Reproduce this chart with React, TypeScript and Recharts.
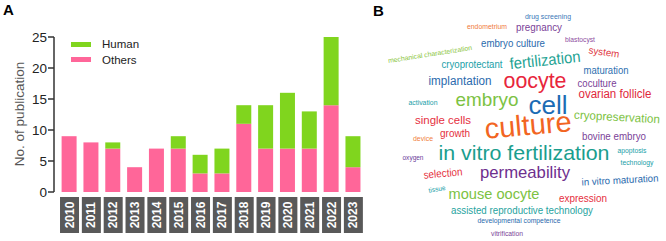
import React from "react";
import { BarChart, Bar, XAxis, YAxis, Legend } from "recharts";

const years = ["2010", "2011", "2012", "2013", "2014", "2015", "2016", "2017", "2018", "2019", "2020", "2021", "2022", "2023"];
const others = [9, 8, 7, 4, 7, 7, 3, 3, 11, 7, 7, 7, 14, 4];
const human = [0, 0, 1, 0, 0, 2, 3, 4, 3, 7, 9, 6, 11, 5];
const yTicks = [0, 5, 10, 15, 20, 25];

const cloudWords = [
  "drug screening", "endometrium", "pregnancy", "blastocyst", "mechanical characterization",
  "embryo culture", "system", "cryoprotectant", "fertilization", "maturation", "implantation",
  "oocyte", "coculture", "ovarian follicle", "activation", "embryo", "cell", "cryopreservation",
  "single cells", "culture", "growth", "device", "bovine embryo", "in vitro fertilization",
  "apoptosis", "oxygen", "technology", "selection", "permeability", "in vitro maturation",
  "tissue", "mouse oocyte", "expression", "assisted reproductive technology",
  "developmental competence", "vitrification",
];

// [cx, cy, fontSize, width, color, rotate] in page pixels
const cloudLayout: [number, number, number, number, string, number][] = [
  [548, 16, 7, 46, "#3a78b8", 0],
  [487, 26, 7, 40, "#f07a3a", 0],
  [539, 27, 11, 46, "#7b3f98", 0],
  [580, 39, 7, 30, "#8e4ea0", 0],
  [430, 54, 7, 85, "#8cc63f", -9],
  [513, 43, 10, 64, "#2a6aad", 0],
  [604, 52, 10, 31, "#e03a45", 8],
  [472, 64, 10.5, 61, "#20a0a8", 0],
  [545, 60, 16, 71, "#1fa394", -6],
  [606, 70, 10, 45, "#2e70b0", 0],
  [460, 81, 12, 63, "#2a6aad", 0],
  [535, 80, 22, 63, "#e8263c", 0],
  [597, 83, 10, 39, "#7b3f98", 0],
  [615, 94, 12, 73, "#e0283c", 0],
  [423, 102, 7, 29, "#20a0a8", 0],
  [487, 99, 19, 63, "#7cc242", 0],
  [548, 105, 26, 39, "#1c6cb4", 0],
  [617, 117, 12, 86, "#7cc242", 3],
  [443, 120, 11, 56, "#e53040", 0],
  [528, 125, 29, 87, "#f26522", -5],
  [455, 133, 10, 30, "#e53040", 0],
  [423, 138, 7, 20, "#f08040", 0],
  [614, 136, 10, 64, "#7b3f98", 0],
  [524, 152, 21, 171, "#1a9e8e", 0],
  [632, 150, 7, 29, "#20a0a8", 0],
  [413, 157, 7, 21, "#6a3d9a", 0],
  [637, 162, 7, 33, "#20a0a8", 0],
  [443, 173, 11, 39, "#e53040", -5],
  [525, 172, 17, 90, "#6e2f8e", 0],
  [620, 180, 10, 77, "#2a6aad", -3],
  [437, 189, 7, 17, "#20a0a8", -10],
  [494, 193, 15, 91, "#7cc242", 0],
  [583, 198, 11, 48, "#e53040", 0],
  [522, 210, 11, 142, "#1fa3a0", 0],
  [519, 220, 7, 83, "#2a6aad", 0],
  [507, 233, 7, 32, "#7b3f98", 0],
];

const PINK = "#ff6699";
const GREEN = "#80d51e";
const FONT = "'Liberation Sans', Arial, sans-serif";

const data = years.map((year, i) => ({ year, others: others[i], human: human[i] }));

const YearTick = ({ x, y, payload }: any) => (
  <g>
    <rect x={x - 9.5} y={y} width={19} height={36} fill="#595959" />
    <text
      x={x}
      y={y + 18}
      transform={`rotate(-90 ${x} ${y + 18})`}
      textAnchor="middle"
      dominantBaseline="central"
      fill="#fff"
      fontWeight="bold"
      fontSize={12}
    >
      {payload.value}
    </text>
  </g>
);

// Human sits on top of the stack, so it is listed first
const renderLegend = (props: any) => {
  const items = [...(props.payload || [])].sort((a: any) => (a.value === "Human" ? -1 : 1));
  return (
    <div>
      {items.map((item: any) => (
        <div key={item.value} style={{ display: "flex", alignItems: "center", height: 15.6 }}>
          <div style={{ width: 20, height: 5, background: item.color, marginRight: 11 }} />
          <span style={{ fontSize: 11.5, color: "#222" }}>{item.value}</span>
        </div>
      ))}
    </div>
  );
};

const YLabel = () => (
  <text
    x={19}
    y={114}
    transform="rotate(-90 19 114)"
    textAnchor="middle"
    dominantBaseline="central"
    fill="#555"
    fontSize={13.5}
  >
    No. of publication
  </text>
);

export default function App() {
  return (
    <div style={{ position: "absolute", left: 0, top: 0, width: 666, height: 241, fontFamily: FONT, background: "#fff" }}>
      <div style={{ position: "absolute", left: 3, top: 1, fontSize: 15, fontWeight: "bold" }}>A</div>
      <div style={{ position: "absolute", left: 373, top: 2, fontSize: 15, fontWeight: "bold" }}>B</div>
      <BarChart
        width={370}
        height={241}
        data={data}
        margin={{ top: 37, right: 5.7, bottom: 0, left: 0 }}
        style={{ fontFamily: FONT }}
      >
        <XAxis
          dataKey="year"
          height={49}
          axisLine={false}
          tickLine={false}
          tickSize={0}
          tickMargin={5}
          interval={0}
          padding={{ left: 4.6, right: 0 }}
          tick={<YearTick />}
        />
        <YAxis
          width={54}
          domain={[0, 25]}
          ticks={yTicks}
          tickSize={6}
          tickMargin={1}
          axisLine={{ stroke: "#333", strokeWidth: 1.5 }}
          tickLine={{ stroke: "#333", strokeWidth: 1.5 }}
          tick={{ fill: "#222", fontSize: 13.5 }}
          label={<YLabel />}
        />
        <Legend
          layout="horizontal"
          verticalAlign="middle"
          align="center"
          content={renderLegend}
          wrapperStyle={{ left: 71, top: 36.4, width: 90, height: 32 }}
        />
        <Bar dataKey="others" name="Others" stackId="a" fill={PINK} barSize={15} isAnimationActive={false} />
        <Bar dataKey="human" name="Human" stackId="a" fill={GREEN} barSize={15} isAnimationActive={false} />
      </BarChart>
      <svg style={{ position: "absolute", left: 370, top: 0 }} width={296} height={241}>
        <g transform="translate(-370 0)">
          {cloudWords.map((word, i) => {
            const [cx, cy, fs, w, color, rot] = cloudLayout[i];
            return (
              <text
                key={word}
                x={cx}
                y={cy}
                fontSize={fs}
                fill={color}
                textAnchor="middle"
                dominantBaseline="central"
                textLength={w}
                lengthAdjust="spacingAndGlyphs"
                transform={rot ? `rotate(${rot} ${cx} ${cy})` : undefined}
                fontFamily={FONT}
              >
                {word}
              </text>
            );
          })}
        </g>
      </svg>
    </div>
  );
}
